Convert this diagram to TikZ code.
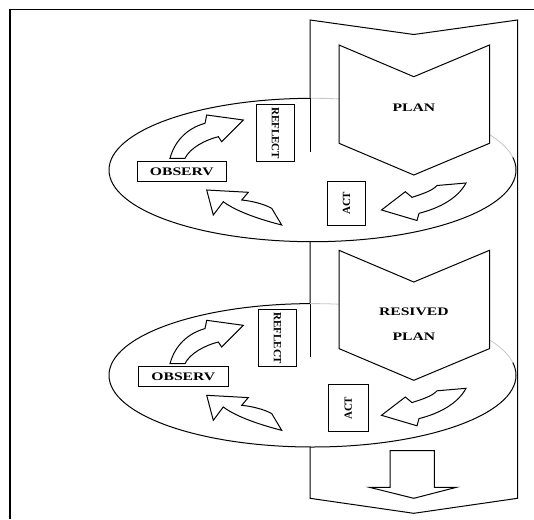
\documentclass[tikz,border=0pt]{standalone}
\usepackage{fontspec}
\setmainfont{Liberation Serif}
\newcommand\htxt[1]{\scalebox{1.36}[1]{#1}}
\newcommand\cyclebody{%
  \fill[white] (312.5,170) ellipse [x radius=203.5, y radius=71.7];
  \begin{scope}
    \clip (0,0) rectangle (310,300);
    \draw[ln] (312.5,170) ellipse [x radius=203.5, y radius=71.7];
  \end{scope}
  \begin{scope}
    \clip (310,157) rectangle (534,300);
    \draw[ln] (312.5,170) ellipse [x radius=203.5, y radius=71.7];
  \end{scope}
  \begin{scope}
    \clip (310,0) rectangle (534,157);
    \draw[faint] (312.5,170) ellipse [x radius=203.5, y radius=71.7];
  \end{scope}
  \draw[ln] (310,98.3) -- (310,151.7);
  \draw[ln, fill=white] (339,45) -- (413.8,76.7) -- (489.5,45) -- (489.5,143.3) -- (413.8,175) -- (339,143.3) -- cycle;
  % OBSERV -> REFLECT
  \draw[blockarrow] (170,158.3) .. controls (175,140) and (188,128) .. (205,123.3)
     -- (206.7,115) -- (243.3,120) -- (221.7,141.7) -- (218.3,136.7)
     .. controls (205,140) and (190,148) .. (185,158.3) -- cycle;
  % ACT -> OBSERV
  \draw[blockarrow] (206.7,190) -- (248.3,192.3) -- (241.7,200)
     .. controls (252,201) and (264,204) .. (271.7,208.3) -- (281.7,225)
     .. controls (262,220) and (237,212) .. (223.3,201.7) -- (213.3,215) -- cycle;
  % PLAN -> ACT
  \draw[blockarrow] (437,185.5) -- (466,183)
     .. controls (458,198) and (440,208) .. (419,213.3) -- (417,220.5) -- (381.5,210)
     -- (405.3,191.7) -- (412,197.3) .. controls (422,194) and (432,191) .. (437,185.5) -- cycle;
}
\begin{document}
\begin{tikzpicture}[x=1pt,y=-1pt,
  ln/.style={line width=1pt, draw=black, line join=miter},
  faint/.style={line width=0.8pt, draw=black!22},
  blockarrow/.style={draw=black, line width=1pt, fill=white, line join=miter},
  boxnode/.style={draw=black, line width=1pt, fill=white, inner sep=0pt,
    font=\fontsize{11}{12}\selectfont\bfseries},
  htext/.style={inner sep=0pt, font=\fontsize{11.5}{12}\selectfont\bfseries}
]
\useasboundingbox (0,0) rectangle (534,519);
% outer frame
\draw[line width=1.2pt] (10,519) -- (10,9.5) -- (534,9.5);
% long vertical band
\draw[ln] (310,20) -- (413.8,34.5) -- (517.5,20) -- (517.5,498.3) -- (413.8,513.3) -- (310,498.3) -- cycle;

% first cycle
\begin{scope}
  \cyclebody
  \node[htext] (plan1) at (413.8,107.3) {\htxt{PLAN}};
  \node[boxnode, rotate=-90, minimum width=56.7pt, minimum height=38.6pt] (reflect1) at (275.5,133.3) {REFLECT};
  \node[boxnode, minimum width=89.5pt, minimum height=20pt, font=\fontsize{11.5}{12}\selectfont\bfseries] (observ1) at (181.8,171.7) {\htxt{OBSERV}};
  \node[boxnode, rotate=90, minimum width=44pt, minimum height=37.5pt] (act1) at (346.5,203.3) {ACT};
\end{scope}

% second cycle
\begin{scope}[shift={(0,205.3)}]
  \cyclebody
  \node[htext] (resived2) at (413.8,106.4) {\htxt{RESIVED}};
  \node[htext] (plan2) at (413.8,131.4) {\htxt{PLAN}};
  \node[boxnode, rotate=-90, minimum width=56.7pt, minimum height=38.6pt] (reflect2) at (277.5,133) {REFLECT};
  \node[boxnode, minimum width=90pt, minimum height=19.5pt, font=\fontsize{11.5}{12}\selectfont\bfseries] (observ2) at (183.3,171) {\htxt{OBSERV}};
  \node[boxnode, rotate=90, minimum width=46.7pt, minimum height=40pt] (act2) at (348.3,203) {ACT};
\end{scope}

% downward hollow arrow at the bottom of the band
\draw[ln, fill=white] (390,450.7) -- (390,487.3) -- (369.5,487.3) -- (413.8,498.3) -- (456.4,487.3) -- (434.3,487.3) -- (434.3,450.7) -- cycle;
\end{tikzpicture}
\end{document}
